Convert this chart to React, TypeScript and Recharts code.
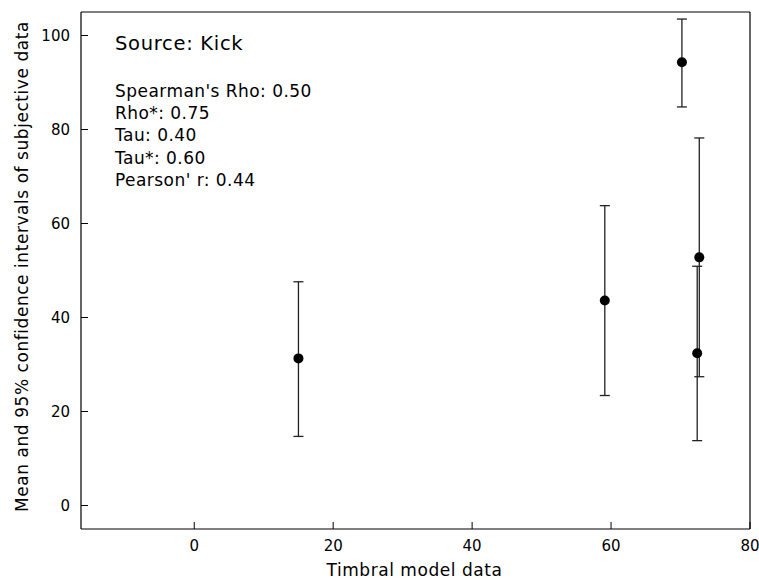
import React from 'react';
import { ScatterChart, Scatter, XAxis, YAxis, ErrorBar, Label } from 'recharts';

const xValues = [15.0, 59.1, 70.2, 72.4, 72.7];
const meanValues = [31.3, 43.6, 94.3, 32.4, 52.8];
const lowValues = [14.7, 23.4, 84.8, 13.8, 27.4];
const highValues = [47.6, 63.8, 103.5, 50.9, 78.2];

const xTicks = [0, 20, 40, 60, 80];
const yTicks = [0, 20, 40, 60, 80, 100];
const xDomain = [-16.3, 80];
const yDomain = [-5, 105];

const sourceLabel = 'Source: Kick';
const statLines = [
  "Spearman's Rho: 0.50",
  'Rho*: 0.75',
  'Tau: 0.40',
  'Tau*: 0.60',
  "Pearson' r: 0.44",
];

const xTitle = 'Timbral model data';
const yTitle = 'Mean and 95% confidence intervals of subjective data';

const data = xValues.map((x, i) => ({
  x,
  y: meanValues[i],
  err: [meanValues[i] - lowValues[i], highValues[i] - meanValues[i]],
}));

const FONT = '"DejaVu Sans", sans-serif';

const Dot = (p: any) => <circle cx={p.cx} cy={p.cy} r={5} fill="#000" />;

const YTitle = (props: any) => {
  const vb = props.viewBox || { x: 0, y: 0, width: 0, height: 0 };
  const cx = 22;
  const cy = vb.y + vb.height / 2 - 4;
  return (
    <text
      x={cx}
      y={cy}
      transform={`rotate(-90, ${cx}, ${cy})`}
      textAnchor="middle"
      dominantBaseline="central"
      fontFamily={FONT}
      fontSize={17}
      letterSpacing={0.55}
      fill="#000"
    >
      {yTitle}
    </text>
  );
};

const XTitle = (props: any) => {
  const vb = props.viewBox || { x: 0, y: 0, width: 0, height: 0 };
  const cx = vb.x + vb.width / 2 - 1;
  return (
    <text x={cx} y={576} textAnchor="middle" fontFamily={FONT} fontSize={17} letterSpacing={0.55} fill="#000">
      {xTitle}
    </text>
  );
};

export default function App() {
  const tickStyle = { fontFamily: FONT, fontSize: 15, fill: '#000' };
  return (
    <div style={{ position: 'absolute', left: 0, top: 0, width: 759, height: 579, background: '#fff' }}>
      <ScatterChart width={759} height={579} margin={{ top: 11, right: 0, bottom: 0, left: 0 }}>
        <XAxis
          xAxisId="b"
          type="number"
          dataKey="x"
          domain={xDomain}
          ticks={xTicks}
          allowDataOverflow
          orientation="bottom"
          height={50}
          tickSize={-7}
          tickMargin={18}
          stroke="#000"
          tick={tickStyle}
          axisLine={{ stroke: '#000', strokeWidth: 1.2 }}
          tickLine={{ stroke: '#000' }}
        >
          <Label content={<XTitle />} />
        </XAxis>
        <XAxis
          xAxisId="t"
          type="number"
          dataKey="x"
          domain={xDomain}
          ticks={xTicks}
          allowDataOverflow
          orientation="top"
          height={1}
          tickSize={-7}
          tick={false}
          axisLine={{ stroke: '#000', strokeWidth: 1.2 }}
          tickLine={{ stroke: '#000' }}
        />
        <YAxis
          yAxisId="l"
          type="number"
          dataKey="y"
          domain={yDomain}
          ticks={yTicks}
          allowDataOverflow
          orientation="left"
          width={81}
          tickSize={-7}
          tickMargin={18}
          tick={tickStyle}
          axisLine={{ stroke: '#000', strokeWidth: 1.2 }}
          tickLine={{ stroke: '#000' }}
        >
          <Label content={<YTitle />} />
        </YAxis>
        <YAxis
          yAxisId="r"
          type="number"
          dataKey="y"
          domain={yDomain}
          ticks={yTicks}
          allowDataOverflow
          orientation="right"
          width={9}
          tickSize={-7}
          tick={false}
          axisLine={{ stroke: '#000', strokeWidth: 1.2 }}
          tickLine={{ stroke: '#000' }}
        />
        <Scatter
          data={data}
          xAxisId="b"
          yAxisId="l"
          shape={<Dot />}
          isAnimationActive={false}
        >
          <ErrorBar dataKey="err" direction="y" width={5} stroke="#222" strokeWidth={1.3} isAnimationActive={false} />
        </Scatter>
        <Scatter data={data} xAxisId="t" yAxisId="r" shape={() => null} isAnimationActive={false} />
      </ScatterChart>
      <div
        style={{
          position: 'absolute',
          left: 115,
          top: 33,
          fontFamily: FONT,
          fontSize: 19.5,
          letterSpacing: 0.7,
          lineHeight: '22px',
          color: '#000',
          whiteSpace: 'nowrap',
        }}
      >
        {sourceLabel}
      </div>
      <div
        style={{
          position: 'absolute',
          left: 115,
          top: 79.5,
          fontFamily: FONT,
          fontSize: 17,
          letterSpacing: 0.45,
          lineHeight: '22.4px',
          color: '#000',
          whiteSpace: 'nowrap',
        }}
      >
        {statLines.map((s) => (
          <div key={s}>{s}</div>
        ))}
      </div>
    </div>
  );
}
